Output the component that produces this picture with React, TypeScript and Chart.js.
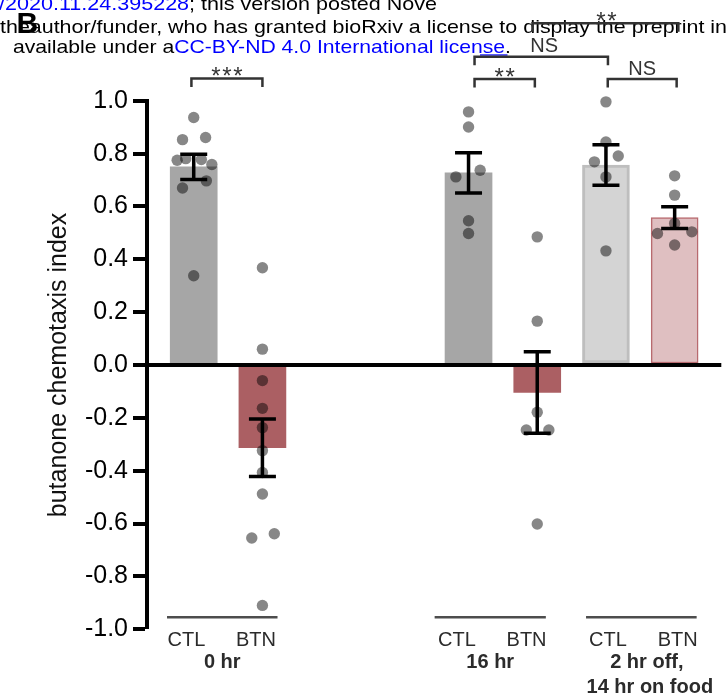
import { useEffect, useRef } from 'react';
import { Chart, registerables } from 'chart.js';

Chart.register(...registerables);

// ---------------- data ----------------
const categories = ['CTL', 'BTN', 'CTL', 'BTN', 'CTL', 'BTN'];
const groupLabels = [['0 hr'], ['16 hr'], ['2 hr off,', '14 hr on food']];
const meanValues = [0.75, -0.313, 0.727, -0.104, 0.757, 0.558];
const semValues = [0.048, 0.109, 0.076, 0.154, 0.077, 0.041];

const ctl0hr = [0.937, 0.853, 0.861, 0.775, 0.781, 0.778, 0.759, 0.67, 0.697, 0.338];
const btn0hr = [0.368, 0.06, -0.059, -0.164, -0.237, -0.324, -0.407, -0.488, -0.655, -0.639, -0.91];
const ctl16hr = [0.958, 0.901, 0.737, 0.712, 0.546, 0.498];
const btn16hr = [0.485, 0.166, -0.179, -0.246, -0.246, -0.602];
const ctlFood = [0.996, 0.844, 0.791, 0.769, 0.712, 0.432];
const btnFood = [0.716, 0.643, 0.536, 0.498, 0.504, 0.454];
const pointSets = [ctl0hr, btn0hr, ctl16hr, btn16hr, ctlFood, btnFood];

// horizontal scatter of the dots (in bar-slot units)
const jitter0 = [0, -0.163, 0.173, -0.241, -0.116, 0.111, 0.264, -0.163, 0.184, 0];
const jitter1 = [0, 0, 0, 0, 0, 0, 0, 0, -0.155, 0.173, 0];
const jitter2 = [0, 0, 0.169, -0.184, 0, 0];
const jitter3 = [0, 0, 0, -0.159, 0.169, 0];
const jitter4 = [0, 0, 0.179, -0.168, 0, 0];
const jitter5 = [0, 0, 0, -0.25, 0.25, 0];
const jitterSets = [jitter0, jitter1, jitter2, jitter3, jitter4, jitter5];

// significance comparisons: [bar a, bar b, label]
const comparisons: [number, number, string][] = [
  [0, 1, '***'],
  [2, 3, '**'],
  [4, 5, 'NS'],
  [2, 4, 'NS'],
  [3, 5, '**'],
];

// header text lines (watermark of the source page)
const headerLine1: [string, string][] = [['/2020.11.24.395228', '#0000ff'], ['; this version posted Nove', '#000']];
const headerLine2: [string, string][] = [['theauthor/funder, who has granted bioRxiv a license to display the preprint in', '#000']];
const headerLine3: [string, string][] = [
  ['available under a', '#000'],
  ['CC-BY-ND 4.0 International license', '#0000ff'],
  ['.', '#000'],
];

// ---------------- layout / style ----------------
const FONT = "'Liberation Sans', Arial, Helvetica, sans-serif";
const slots = [0, 1, 4, 5, 6, 7];
const barFill = ['#a6a6a6', '#ab5f63', '#a6a6a6', '#ab5f63', '#d4d4d4', '#dfbfc1'];
const barEdge = ['#a6a6a6', '#ab5f63', '#a6a6a6', '#ab5f63', '#bebebe', '#b86a6f'];
const barEdgeW = [0, 0, 0, 0, 3, 1.5];
const bracketLayout = [
  { lvl: 22.3, dl: -2.3, dr: 0, tx: 0 },
  { lvl: 21.8, dl: 6, dr: -2.4, tx: 0 },
  { lvl: 21.8, dl: 1.8, dr: 2, tx: 0 },
  { lvl: 44.1, dl: 6, dr: 2, tx: 3 },
  { lvl: 77.5, dl: -4.7, dr: 3.7, tx: 1 },
];
const labelNudge = [-7.3, -6.5, -11.6, -10.7, 2, 3];
const groupLineLayout = [
  [0, 1, -26.7, 15.1, 0],
  [2, 3, -33.9, 8.6, 0],
  [4, 5, -19.9, 22, 5.5],
];

function drawRuns(
  ctx: CanvasRenderingContext2D,
  runs: [string, string][],
  x: number,
  y: number,
  font: string,
  targetWidth: number
) {
  ctx.save();
  ctx.font = font;
  ctx.textBaseline = 'alphabetic';
  ctx.textAlign = 'left';
  let total = 0;
  for (const [text] of runs) total += ctx.measureText(text).width;
  const sx = targetWidth / total;
  ctx.scale(sx, 1);
  let cx = x / sx;
  for (const [text, color] of runs) {
    ctx.fillStyle = color;
    ctx.fillText(text, cx, y);
    cx += ctx.measureText(text).width;
  }
  ctx.restore();
}

const overlayPlugin = {
  id: 'overlay',
  afterDatasetsDraw(chart: any) {
    const { ctx } = chart;
    const x = chart.scales.x;
    const y = chart.scales.y;
    ctx.save();
    ctx.strokeStyle = '#000';
    ctx.lineWidth = 3.5;
    meanValues.forEach((m, i) => {
      const px = x.getPixelForValue(slots[i]);
      const top = y.getPixelForValue(m + semValues[i]);
      const bot = y.getPixelForValue(m - semValues[i]);
      ctx.beginPath();
      ctx.moveTo(px, top);
      ctx.lineTo(px, bot);
      ctx.moveTo(px - 13.5, top);
      ctx.lineTo(px + 13.5, top);
      ctx.moveTo(px - 13.5, bot);
      ctx.lineTo(px + 13.5, bot);
      ctx.stroke();
    });
    ctx.restore();
  },
  afterDraw(chart: any) {
    const { ctx } = chart;
    const x = chart.scales.x;
    const y = chart.scales.y;
    const yTop = y.getPixelForValue(1);
    const yBottom = y.getPixelForValue(-1);

    // header (bioRxiv watermark)
    const hf = `19px ${FONT}`;
    drawRuns(ctx, headerLine1, -1, 10, hf, 438);
    drawRuns(ctx, headerLine2, 0, 33.3, hf, 727);
    drawRuns(ctx, headerLine3, 13, 53.3, hf, 498);
    ctx.save();
    ctx.strokeStyle = '#0000ff';
    ctx.lineWidth = 1.3;
    ctx.beginPath();
    ctx.moveTo(480, 55);
    ctx.lineTo(507.5, 55);
    ctx.stroke();
    ctx.fillStyle = '#000';
    ctx.font = `bold 30px ${FONT}`;
    ctx.textBaseline = 'alphabetic';
    ctx.fillText('B', 16.5, 33.3);
    ctx.restore();

    // significance brackets
    ctx.save();
    ctx.strokeStyle = '#333';
    ctx.fillStyle = '#333';
    ctx.lineWidth = 2.5;
    ctx.textAlign = 'center';
    ctx.textBaseline = 'alphabetic';
    comparisons.forEach(([a, b, label], i) => {
      const L = bracketLayout[i];
      const x1 = x.getPixelForValue(slots[a]) + L.dl;
      const x2 = x.getPixelForValue(slots[b]) + L.dr;
      const ly = yTop - L.lvl;
      ctx.beginPath();
      ctx.moveTo(x1, ly + 8.5);
      ctx.lineTo(x1, ly);
      ctx.lineTo(x2, ly);
      ctx.lineTo(x2, ly + 8.5);
      ctx.stroke();
      const cx = (x1 + x2) / 2 + L.tx;
      if (label.startsWith('*')) {
        ctx.font = `24px ${FONT}`;
        const pitch = 11;
        const n = label.length;
        for (let k = 0; k < n; k++) {
          ctx.fillText('*', cx + (k - (n - 1) / 2) * pitch, ly + 5.8);
        }
      } else {
        ctx.font = `20px ${FONT}`;
        ctx.fillText(label, cx, ly - 4.5);
      }
    });
    ctx.restore();

    // category labels and group lines
    ctx.save();
    ctx.textAlign = 'center';
    ctx.textBaseline = 'alphabetic';
    ctx.fillStyle = '#2b2b2b';
    ctx.font = `20px ${FONT}`;
    categories.forEach((c, i) => {
      ctx.fillText(c, x.getPixelForValue(slots[i]) + labelNudge[i], yBottom + 16.6);
    });
    ctx.strokeStyle = '#4d4d4d';
    ctx.lineWidth = 2.5;
    ctx.font = `bold 20px ${FONT}`;
    groupLineLayout.forEach(([a, b, dl, dr, tn], g) => {
      const x1 = x.getPixelForValue(slots[a]) + dl;
      const x2 = x.getPixelForValue(slots[b]) + dr;
      const ly = yBottom - 12;
      ctx.beginPath();
      ctx.moveTo(x1, ly);
      ctx.lineTo(x2, ly);
      ctx.stroke();
      const lines = groupLabels[g];
      lines.forEach((t, k) => {
        ctx.fillText(t, (x1 + x2) / 2 + tn + (k === 1 ? 3 : 0), yBottom + 39 + k * 25);
      });
    });
    ctx.restore();
  },
};

export default function App() {
  const ref = useRef<HTMLCanvasElement>(null);
  useEffect(() => {
    if (!ref.current) return;
    const barData = meanValues.map((m, i) => ({ x: slots[i], y: m }));
    const pts: { x: number; y: number }[] = [];
    pointSets.forEach((set, i) => {
      set.forEach((v, k) => pts.push({ x: slots[i] + jitterSets[i][k], y: v }));
    });
    const chart = new Chart(ref.current, {
      type: 'bar',
      data: {
        datasets: [
          {
            type: 'scatter',
            data: pts,
            order: 0,
            clip: false,
            pointRadius: 5.7,
            pointHoverRadius: 5.7,
            pointBackgroundColor: 'rgba(0,0,0,0.47)',
            pointBorderWidth: 0,
            pointBorderColor: 'rgba(0,0,0,0)',
          } as any,
          {
            type: 'bar',
            data: barData,
            order: 1,
            barThickness: 47,
            backgroundColor: barFill,
            borderColor: barEdge,
            borderWidth: barEdgeW,
            borderSkipped: false,
          } as any,
        ],
      },
      options: {
        animation: false,
        responsive: false,
        devicePixelRatio: 1,
        layout: { padding: { top: 100.8, bottom: 68.8, left: 0, right: 2 } },
        plugins: { legend: { display: false }, tooltip: { enabled: false } },
        events: [],
        scales: {
          x: {
            type: 'linear',
            display: false,
            offset: false,
            min: -0.68,
            max: 7.679,
          },
          y: {
            type: 'linear',
            min: -1,
            max: 1,
            afterFit: (scale: any) => {
              scale.width = 147;
            },
            ticks: {
              stepSize: 0.2,
              padding: 5,
              color: '#000',
              font: { family: FONT, size: 25 },
              callback: (v: any) => (Math.abs(Number(v)) < 1e-9 ? '0.0' : Number(v).toFixed(1)),
            },
            grid: {
              z: 1,
              drawOnChartArea: true,
              drawTicks: true,
              tickLength: 14,
              tickWidth: 4,
              tickColor: '#000',
              color: (c: any) => (c.tick && Math.abs(c.tick.value) < 1e-9 ? '#000' : 'rgba(0,0,0,0)'),
              lineWidth: (c: any) => (c.tick && Math.abs(c.tick.value) < 1e-9 ? 4 : 0),
            },
            border: { display: true, color: '#000', width: 4, z: 1 },
            title: {
              display: true,
              text: 'butanone chemotaxis index',
              color: '#111',
              font: { family: FONT, size: 25 },
              padding: { top: 44, bottom: 0 },
            },
          },
        },
      },
      plugins: [overlayPlugin],
    });
    return () => chart.destroy();
  }, []);
  return (
    <div style={{ position: 'absolute', left: 0, top: 0, width: 727, height: 698, background: '#fff' }}>
      <canvas ref={ref} width={727} height={698} style={{ display: 'block', width: 727, height: 698 }} />
    </div>
  );
}
